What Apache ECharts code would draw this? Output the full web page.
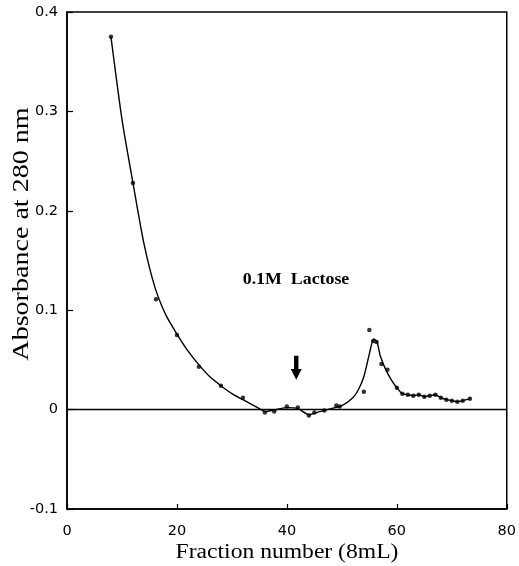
<!DOCTYPE html>
<html><head><meta charset="utf-8">
<script src="https://cdn.jsdelivr.net/npm/echarts@6/dist/echarts.min.js"></script>
<style>html,body{margin:0;padding:0;background:#fff}#c{width:519px;height:566px}</style>
</head><body><div id="c"></div>
<script>
// Measured points (fraction number, absorbance)
var pointX = [8, 12, 16.2, 20, 24, 28, 32, 36, 37.7, 40, 42, 44, 45, 46.8, 49, 49.6, 54, 55, 55.7, 56.3, 57.2, 58.3, 60, 61, 62, 63, 64, 65, 66, 67, 68, 69, 70, 71, 72, 73.3];
var pointY = [0.375, 0.228, 0.111, 0.075, 0.043, 0.024, 0.012, -0.003, -0.002, 0.003, 0.002, -0.006, -0.003, -0.001, 0.004, 0.003, 0.018, 0.080, 0.069, 0.068, 0.046, 0.040, 0.022, 0.016, 0.015, 0.014, 0.015, 0.013, 0.014, 0.015, 0.012, 0.010, 0.009, 0.008, 0.009, 0.011];
// Fitted curve
var curveX = [8, 10, 12, 14, 16, 18, 20, 22, 24, 26, 28, 30, 32, 34, 35, 36, 38, 40, 42, 44, 46, 48, 50, 52, 53, 54, 55, 55.8, 56.4, 57, 58, 59, 60, 61, 62, 63, 64, 65, 66, 67, 68, 69, 70, 71, 72, 73.3];
var curveY = [0.375, 0.292, 0.228, 0.167, 0.123, 0.095, 0.076, 0.059, 0.045, 0.033, 0.024, 0.016, 0.010, 0.004, 0.001, -0.002, 0.000, 0.002, 0.001, -0.005, -0.002, 0.001, 0.004, 0.012, 0.020, 0.033, 0.056, 0.071, 0.068, 0.054, 0.040, 0.030, 0.022, 0.016, 0.015, 0.014, 0.015, 0.013, 0.014, 0.015, 0.012, 0.010, 0.009, 0.008, 0.009, 0.011];
var xTicks = [0, 20, 40, 60, 80];
var yTicks = [-0.1, 0, 0.1, 0.2, 0.3, 0.4];
var xTitle = 'Fraction number (8mL)';
var yTitle = 'Absorbance at 280 nm';
var annotationText = '0.1M  Lactose';
var arrowAt = [41.7, 0.042];

var pts = pointX.map(function (x, i) { return [x, pointY[i]]; });
var crv = curveX.map(function (x, i) { return [x, curveY[i]]; });

var chart = echarts.init(document.getElementById('c'));
var tickFont = {color: '#000', fontFamily: 'DejaVu Sans, Verdana, sans-serif', fontSize: 14.5};
var serif = '"Liberation Serif", "Times New Roman", serif';
chart.setOption({
  animation: false,
  backgroundColor: '#fff',
  grid: {left: 67, right: 11, top: 12, bottom: 57, show: true, borderColor: '#000', borderWidth: 1.5},
  xAxis: {
    type: 'value', min: xTicks[0], max: xTicks[xTicks.length - 1], interval: 20,
    axisLine: {show: true, onZero: false, lineStyle: {color: '#000', width: 1.5}},
    axisTick: {show: true, inside: true, length: 5, lineStyle: {color: '#000', width: 1.2}},
    axisLabel: Object.assign({margin: 15}, tickFont),
    splitLine: {show: false}
  },
  yAxis: {
    type: 'value', min: yTicks[0], max: yTicks[yTicks.length - 1], interval: 0.1,
    axisLine: {show: true, onZero: false, lineStyle: {color: '#000', width: 1.5}},
    axisTick: {show: true, inside: true, length: 6, lineStyle: {color: '#000', width: 1.2}},
    axisLabel: Object.assign({margin: 9, formatter: function (v) { return String(Math.round(v * 10) / 10); }}, tickFont),
    splitLine: {show: false}
  },
  series: [
    {
      type: 'line', data: crv, smooth: 0.25, showSymbol: false,
      lineStyle: {color: '#000', width: 1.4},
      markLine: {
        silent: true, symbol: ['none', 'none'], label: {show: false},
        lineStyle: {color: '#000', width: 1.3, type: 'solid'},
        data: [{yAxis: 0}]
      },
      markPoint: {
        silent: true,
        data: [{
          coord: arrowAt,
          symbol: 'path://M3,0 L7,0 L7,12 L10,12 L5,22 L0,12 L3,12 Z',
          symbolSize: [11, 24],
          itemStyle: {color: '#000'},
          label: {show: false}
        }]
      },
      z: 2
    },
    {
      type: 'scatter', data: pts, symbol: 'circle', symbolSize: 4.5,
      itemStyle: {color: '#000'}, z: 3
    }
  ],
  graphic: [
    {
      type: 'text', x: 296, y: 280, scaleX: 1.05,
      style: {text: annotationText, fill: '#000', font: 'bold 17px ' + serif, align: 'center', verticalAlign: 'middle', textAlign: 'center', textVerticalAlign: 'middle'}
    },
    {
      type: 'text', x: 287, y: 553, scaleX: 1.18,
      style: {text: xTitle, fill: '#000', font: '20px ' + serif, align: 'center', verticalAlign: 'middle', textAlign: 'center', textVerticalAlign: 'middle'}
    },
    {
      type: 'text', x: 22, y: 234, rotation: Math.PI / 2, scaleX: 1.22,
      style: {text: yTitle, fill: '#000', font: '23px ' + serif, align: 'center', verticalAlign: 'middle', textAlign: 'center', textVerticalAlign: 'middle'}
    }
  ]
});
</script></body></html>
